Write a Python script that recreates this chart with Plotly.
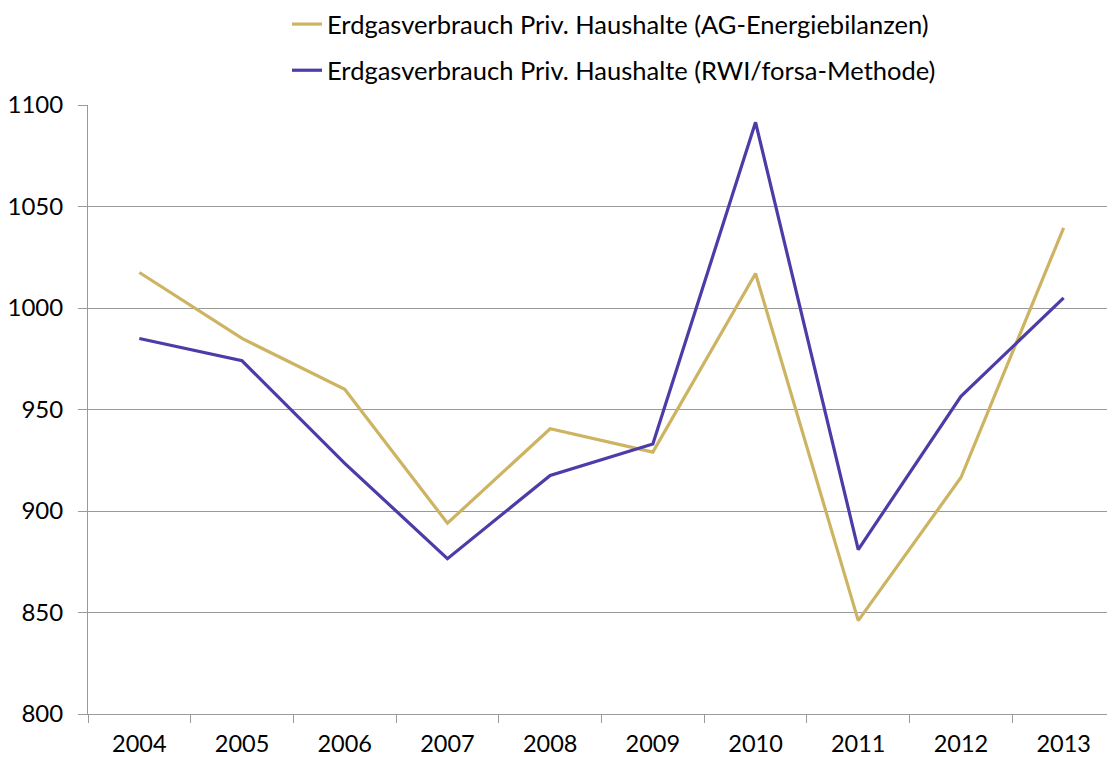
import plotly.graph_objects as go

years = ["2004", "2005", "2006", "2007", "2008", "2009", "2010", "2011", "2012", "2013"]
ag_energiebilanzen = [1017.5, 985, 960, 894, 940.5, 929, 1017, 846, 916.5, 1039.5]
rwi_forsa = [985, 974, 923.5, 876.5, 917.5, 933, 1091.5, 881, 956.5, 1005]

name_ag = "Erdgasverbrauch Priv. Haushalte (AG-Energiebilanzen)"
name_rwi = "Erdgasverbrauch Priv. Haushalte (RWI/forsa-Methode)"

FONT = "Lato, 'Open Sans', sans-serif"
GRID = "#9a9a9a"

fig = go.Figure()
fig.add_trace(go.Scatter(x=years, y=ag_energiebilanzen, mode="lines", name=name_ag,
                         legendgroup="a", line=dict(color="#CDB462", width=3.2)))
fig.add_trace(go.Scatter(x=years, y=rwi_forsa, mode="lines", name=name_rwi,
                         legendgroup="b", line=dict(color="#4B3CA8", width=3.2)))

fig.update_layout(
    width=1107, height=752,
    margin=dict(l=80, r=0, t=97, b=46, autoexpand=False),
    paper_bgcolor="white", plot_bgcolor="white",
    font=dict(family=FONT, size=24, color="black"),
    legend=dict(
        orientation="v", xref="container", yref="paper",
        x=279 / 1107, xanchor="left", y=1 + 104 / 609, yanchor="top",
        tracegroupgap=10, itemwidth=30, font=dict(size=25.5),
        bgcolor="rgba(0,0,0,0)",
    ),
    xaxis=dict(
        type="category", tickson="boundaries", ticks="outside", ticklen=8,
        tickcolor=GRID, showline=True, linecolor=GRID, linewidth=1,
        showgrid=False, ticklabelstandoff=9, range=[-0.5, 9.5], tickangle=0,
        tickfont=dict(size=23.5),
    ),
    yaxis=dict(
        range=[800, 1100], dtick=50, ticks="outside", ticklen=9, tickcolor=GRID,
        showline=True, linecolor=GRID, linewidth=1, showgrid=True,
        gridcolor=GRID, gridwidth=1, zeroline=False, ticklabelstandoff=10,
    ),
)

fig.write_html("out.html")
